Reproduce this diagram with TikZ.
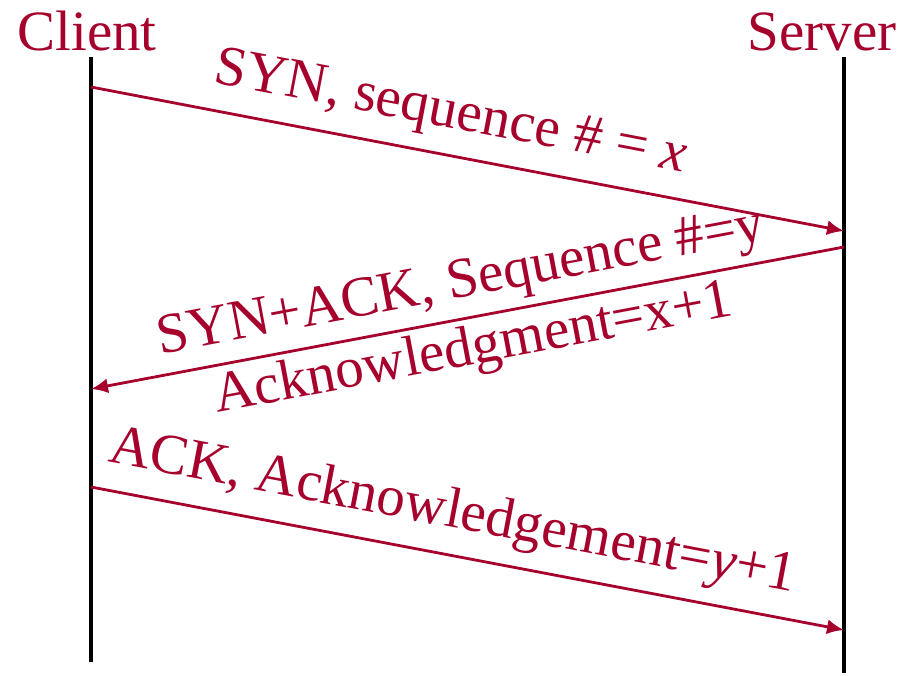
\documentclass[tikz,border=0pt]{standalone}
\usepackage{fontspec}
\setmainfont{Liberation Serif}
\usetikzlibrary{arrows.meta}
\definecolor{tcpred}{RGB}{166,0,45}
\begin{document}
\begin{tikzpicture}[x=1pt,y=-1pt,
  lbl/.style={text=tcpred, font=\fontsize{57}{68}\selectfont, inner sep=0pt},
  life/.style={line width=3.5pt, black},
  msg/.style={tcpred, line width=2.8pt, -{Latex[length=17pt,width=15pt]}}]
\useasboundingbox (0,0) rectangle (907,675);
\node[lbl, anchor=base] (client) at (87,50) {Client};
\node[lbl, anchor=base] (server) at (822,50) {Server};
\coordinate (ctop) at (91,57);
\coordinate (cbot) at (91,662);
\coordinate (stop) at (844,57);
\coordinate (sbot) at (844,673);
\draw[life] (ctop) -- (cbot);
\draw[life] (stop) -- (sbot);
\coordinate (c1) at (91,87);
\coordinate (s1) at (844,231);
\coordinate (s2) at (844,247);
\coordinate (c2) at (91,389);
\coordinate (c3) at (91,487);
\coordinate (s3) at (844,630);
\draw[msg] (c1) -- node[lbl, sloped, pos=0.467, anchor=south, yshift=14pt] (m1) {SYN, sequence \# = \textit{x}} (s1);
\draw[msg] (s2) -- node[lbl, sloped, pos=0.5, align=center] (m2) {SYN+ACK, Sequence \#=y\\Acknowledgment=x+1} (c2);
\draw[msg] (c3) -- node[lbl, sloped, pos=0.47, anchor=south, yshift=14pt] (m3) {ACK, Acknowledgement=\textit{y}+1} (s3);
\end{tikzpicture}
\end{document}
